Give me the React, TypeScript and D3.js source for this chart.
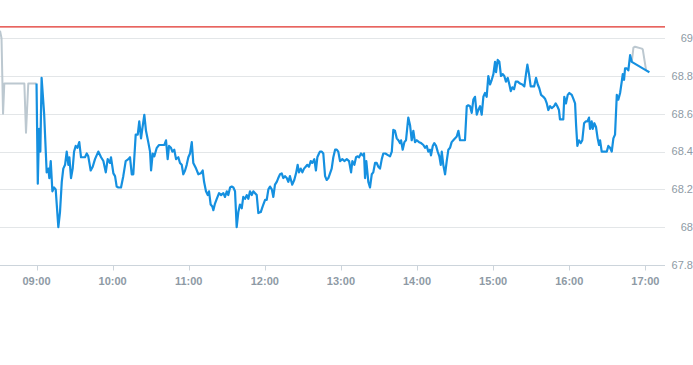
import { useEffect, useRef } from 'react';
import * as d3 from 'd3';

// minutes relative to 09:00
const preMinutes = [-28.8, -27.6, -26.4, -25.4, -9.6, -8.3, -6.5, 0];
const preValues = [69.04, 69.0, 68.6, 68.76, 68.76, 68.5, 68.76, 68.76];

const mainMinutes = [
  0, 1, 2, 3, 4, 6, 8, 9.3, 10.1, 11.2, 12.5, 13.8, 15.1, 17.2, 18.5, 19.9, 21.1, 22.5, 23.8, 25.1,
  25.9, 27.2, 28.5, 29.6, 30.9, 32.2, 33.7, 35.1, 38.2, 39.6, 40.8, 42.7, 44.3, 46.1, 48.7, 50.9,
  52.7, 54.6, 56.1, 57.9, 58.7, 60.6, 61.9, 63.2, 64.5, 66.6, 68.4, 70.3, 72.4, 73.7, 75.1, 76.3,
  78.2, 79.8, 81.0, 82.4, 83.4, 85.0, 86.3, 88.1, 89.5, 90.3, 91.6, 92.9, 94.8, 96.6, 98.7, 100.8,
  102.1, 103.4, 104.5, 106.0, 107.1, 108.6, 110.0, 111.8, 113.1, 114.5, 115.7, 117.1, 118.4, 119.7,
  121.0, 122.4, 123.6, 125.8, 127.6, 129.5, 131.0, 132.1, 133.6, 135.0, 136.0, 137.3, 138.6, 139.4,
  140.7, 142.1, 143.9, 145.5, 147.3, 148.6, 150.0, 151.2, 152.6, 153.9, 155.2, 156.5, 157.8, 159.1,
  160.4, 161.8, 163.0, 164.4, 165.7, 167.0, 168.3, 169.7, 170.9, 172.3, 173.6, 174.9, 176.8, 178.3,
  180.2, 181.5, 182.8, 184.1, 185.5, 186.7, 188.0, 189.4, 190.6, 192.0, 193.3, 194.6, 195.9, 197.3,
  198.5, 199.8, 201.6, 203.2, 204.6, 205.9, 206.9, 208.3, 209.6, 210.9, 212.2, 213.5, 214.8, 216.2,
  217.4, 219.0, 220.3, 221.4, 222.7, 223.5, 224.9, 226.1, 227.5, 228.8, 230.1, 231.4, 232.7, 234.0,
  235.4, 236.7, 237.9, 239.3, 241.1, 242.7, 244.6, 246.4, 248.0, 249.0, 250.6, 251.9, 253.2, 254.3,
  255.8, 257.2, 258.2, 259.0, 260.0, 261.6, 262.9, 264.3, 265.5, 266.9, 268.2, 269.5, 270.8, 272.2,
  273.4, 275.0, 277.4, 278.7, 280.1, 281.3, 282.6, 284.0, 285.3, 286.6, 287.4, 288.7, 290.0, 291.3,
  293.1, 294.5, 295.8, 297.1, 298.4, 299.8, 301.6, 303.2, 305.0, 306.3, 307.6, 308.9, 310.2, 311.0,
  312.4, 313.6, 315.0, 316.3, 317.6, 318.7, 319.5, 320.7, 322.1, 323.4, 324.7, 326.0, 327.3, 328.6,
  330.0, 331.3, 332.6, 333.9, 337.8, 339.2, 340.4, 341.8, 343.1, 344.4, 345.7, 347.1, 348.3, 349.7,
  351.0, 352.3, 353.6, 354.9, 356.2, 357.6, 358.9, 360.2, 361.5, 362.3, 363.6, 364.9, 366.2, 367.6,
  368.8, 370.1, 371.5, 372.8, 373.9, 375.1, 376.5, 377.8, 379.4, 381.2, 383.0, 384.6, 385.9, 387.0,
  388.3, 389.6, 392.3, 393.8, 395.2, 396.4, 397.8, 399.6, 400.9, 402.3, 403.5, 404.9, 406.2, 408.0,
  409.3, 410.6, 411.9, 412.7, 415.3, 416.1, 417.4, 418.8, 420.1, 422.0, 423.2, 424.6, 425.4, 426.4,
  427.7, 429.1, 430.3, 431.7, 433.0, 434.3, 435.6, 436.4, 437.7, 438.5, 439.8, 441.1, 442.4, 443.5,
  444.3, 445.6, 449.6, 450.8, 452.2, 453.5, 454.8, 456.1, 457.5, 458.7, 460.1, 461.4, 462.2, 463.2,
  464.0, 465.4, 466.6, 468.0, 469.3, 480.6, 483.2
];
const mainValues = [
  68.76, 68.23, 68.52, 68.4, 68.79, 68.6, 68.29, 68.31, 68.26, 68.35, 68.19, 68.21, 68.2, 68.0, 68.08, 68.24, 68.31, 68.33, 68.4, 68.33,
  68.37, 68.26, 68.31, 68.4, 68.43, 68.42, 68.45, 68.37, 68.37, 68.39, 68.375, 68.3, 68.32, 68.36, 68.4, 68.37,
  68.35, 68.29, 68.36, 68.34, 68.37, 68.285, 68.27, 68.215, 68.21, 68.21, 68.27, 68.35, 68.36, 68.37, 68.28, 68.28,
  68.49, 68.49, 68.56, 68.47, 68.52, 68.595, 68.51, 68.45, 68.4, 68.3, 68.39, 68.375, 68.42, 68.435, 68.435, 68.435,
  68.46, 68.36, 68.43, 68.42, 68.4, 68.41, 68.36, 68.37, 68.34, 68.33, 68.28, 68.3, 68.33, 68.37,
  68.39, 68.45, 68.34, 68.31, 68.28, 68.285, 68.3, 68.24, 68.19, 68.17, 68.19, 68.12, 68.11, 68.09,
  68.125, 68.15, 68.18, 68.17, 68.18, 68.16, 68.19, 68.17, 68.21, 68.215, 68.21, 68.19, 68.0, 68.08,
  68.12, 68.1, 68.16, 68.15, 68.17, 68.15, 68.19, 68.17, 68.19, 68.18, 68.17, 68.075, 68.08, 68.11,
  68.145, 68.145, 68.2, 68.215, 68.2, 68.16, 68.225, 68.24, 68.26, 68.28, 68.285, 68.26, 68.27, 68.26,
  68.24, 68.27, 68.225, 68.25, 68.285, 68.33, 68.29, 68.31, 68.29, 68.31, 68.32, 68.33, 68.32, 68.35,
  68.34, 68.36, 68.3, 68.37, 68.39, 68.4, 68.4, 68.39, 68.27, 68.25, 68.26, 68.285, 68.31, 68.37,
  68.41, 68.41, 68.4, 68.35, 68.36, 68.35, 68.36, 68.35, 68.29, 68.35, 68.33, 68.37, 68.375, 68.37,
  68.39, 68.38, 68.39, 68.26, 68.35, 68.24, 68.21, 68.28, 68.29, 68.34, 68.34, 68.32, 68.31, 68.36,
  68.39, 68.39, 68.38, 68.375, 68.4, 68.515, 68.51, 68.47, 68.46, 68.445, 68.46, 68.41, 68.45, 68.46,
  68.58, 68.54, 68.46, 68.51, 68.45, 68.46, 68.45, 68.445, 68.435, 68.42, 68.43, 68.4, 68.41, 68.38,
  68.43, 68.445, 68.43, 68.4, 68.375, 68.33, 68.4, 68.33, 68.28, 68.35, 68.41, 68.42, 68.45, 68.46,
  68.47, 68.48, 68.51, 68.46, 68.46, 68.64, 68.645, 68.64, 68.605, 68.675, 68.69, 68.595, 68.62, 68.64,
  68.595, 68.69, 68.71, 68.69, 68.8, 68.755, 68.78, 68.81, 68.875, 68.82, 68.885, 68.875, 68.8, 68.81,
  68.8, 68.77, 68.79, 68.755, 68.72, 68.74, 68.73, 68.77, 68.77, 68.76, 68.755, 68.745, 68.81, 68.86,
  68.81, 68.745, 68.745, 68.79, 68.755, 68.735, 68.7, 68.69, 68.68, 68.655, 68.62, 68.64, 68.63, 68.64,
  68.655, 68.64, 68.62, 68.57, 68.57, 68.69, 68.655, 68.7, 68.71, 68.7, 68.68, 68.655, 68.54, 68.43,
  68.46, 68.445, 68.46, 68.55, 68.56, 68.56, 68.58, 68.52, 68.56, 68.52, 68.55, 68.53, 68.47, 68.435,
  68.46, 68.4, 68.4, 68.43, 68.42, 68.4, 68.47, 68.49, 68.7, 68.675, 68.71, 68.77, 68.81, 68.78,
  68.84, 68.84, 68.83, 68.91, 68.875, 68.83, 68.82
];

const postMinutes = [469.3, 470.6, 471.9, 477.2, 478.0, 480.6];
const postValues = [68.875, 68.95, 68.955, 68.945, 68.94, 68.83];

const hourTicks = [0, 60, 120, 180, 240, 300, 360, 420, 480];
const hourLabels = ['09:00', '10:00', '11:00', '12:00', '13:00', '14:00', '15:00', '16:00', '17:00'];
const priceTicks = [67.8, 68, 68.2, 68.4, 68.6, 68.8, 69];
const refPrice = 69.06;

const W = 693;
const H = 365;

export default function App() {
  const svgRef = useRef<SVGSVGElement>(null);

  useEffect(() => {
    if (!svgRef.current) return;
    const svg = d3.select(svgRef.current);
    svg.selectAll('*').remove();

    const plotRight = 665;
    const x = d3.scaleLinear().domain([-28.8, 495.5]).range([0, plotRight]);
    const y = d3.scaleLinear().domain([67.8, 69]).range([265, 38.2]);

    // gridlines
    svg.append('g')
      .selectAll('line')
      .data(priceTicks.slice(1))
      .enter()
      .append('line')
      .attr('x1', 0)
      .attr('x2', plotRight)
      .attr('y1', d => Math.round(y(d)) + 0.5)
      .attr('y2', d => Math.round(y(d)) + 0.5)
      .attr('stroke', '#e3e6e8')
      .attr('stroke-width', 1);

    // price labels on the right
    svg.append('g')
      .selectAll('text')
      .data(priceTicks)
      .enter()
      .append('text')
      .attr('x', 693)
      .attr('y', d => y(d))
      .attr('dy', '0.35em')
      .attr('text-anchor', 'end')
      .attr('font-size', '11px')
      .attr('font-family', 'Liberation Sans, Arial, sans-serif')
      .attr('fill', '#8e9aa5')
      .text(d => String(d));

    // bottom axis
    const axisY = Math.round(y(67.8)) + 0.5;
    svg.append('line')
      .attr('x1', 0)
      .attr('x2', plotRight)
      .attr('y1', axisY)
      .attr('y2', axisY)
      .attr('stroke', '#ccd4db')
      .attr('stroke-width', 1);

    svg.append('g')
      .selectAll('line')
      .data(hourTicks)
      .enter()
      .append('line')
      .attr('x1', d => Math.round(x(d)) + 0.5)
      .attr('x2', d => Math.round(x(d)) + 0.5)
      .attr('y1', axisY)
      .attr('y2', axisY + 5)
      .attr('stroke', '#ccd4db');

    svg.append('g')
      .selectAll('text')
      .data(hourTicks)
      .enter()
      .append('text')
      .attr('x', d => x(d))
      .attr('y', 285)
      .attr('text-anchor', 'middle')
      .attr('font-size', '11px')
      .attr('font-weight', 'bold')
      .attr('font-family', 'Liberation Sans, Arial, sans-serif')
      .attr('fill', '#8e9aa5')
      .text((d, i) => hourLabels[i]);

    // previous close line
    svg.append('line')
      .attr('x1', 0)
      .attr('x2', plotRight)
      .attr('y1', y(refPrice))
      .attr('y2', y(refPrice))
      .attr('stroke', '#e0302a')
      .attr('stroke-width', 1.2);

    const line = d3.line<[number, number]>()
      .x(d => x(d[0]))
      .y(d => y(d[1]));

    const pre = preMinutes.map((m, i) => [m, preValues[i]] as [number, number]);
    const main = mainMinutes.map((m, i) => [m, mainValues[i]] as [number, number]);
    const post = postMinutes.map((m, i) => [m, postValues[i]] as [number, number]);

    svg.append('path')
      .datum(pre)
      .attr('d', line)
      .attr('fill', 'none')
      .attr('stroke', '#bcc8d0')
      .attr('stroke-width', 2)
      .attr('stroke-linejoin', 'round');

    svg.append('path')
      .datum(post)
      .attr('d', line)
      .attr('fill', 'none')
      .attr('stroke', '#bcc8d0')
      .attr('stroke-width', 2)
      .attr('stroke-linejoin', 'round');

    svg.append('path')
      .datum(main)
      .attr('d', line)
      .attr('fill', 'none')
      .attr('stroke', '#1590e0')
      .attr('stroke-width', 2.2)
      .attr('stroke-linejoin', 'round');
  }, []);

  return (
    <svg
      ref={svgRef}
      width={W}
      height={H}
      style={{ position: 'absolute', left: 0, top: 0, background: '#fff' }}
    />
  );
}
